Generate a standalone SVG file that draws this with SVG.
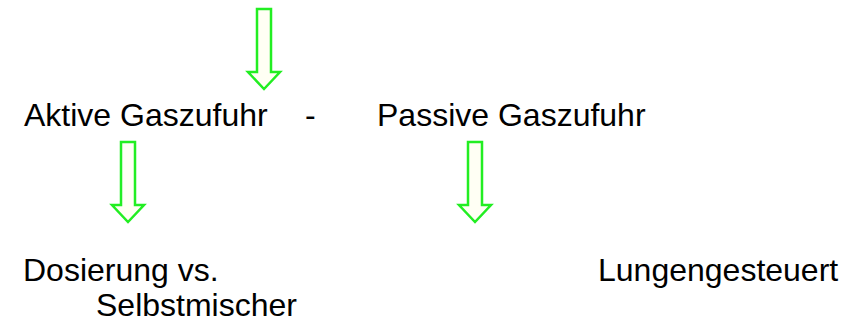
<svg xmlns="http://www.w3.org/2000/svg" width="852" height="323" viewBox="0 0 852 323">
  <defs>
    <!-- hollow down arrow, origin at shaft top-left -->
    <path id="down-arrow" d="M0,0 H14 V63 H23 L7,80 L-9,63 H0 Z"/>
  </defs>
  <style>
    .label { font-family: "Liberation Sans", Arial, sans-serif; font-size: 32px; fill: #000; }
    .arrow { fill: #FFFFF4; stroke: #22EE22; stroke-width: 2.5; stroke-linejoin: miter; }
  </style>
  <rect width="852" height="323" fill="#fff"/>

  <g id="connectors">
    <use href="#down-arrow" class="arrow" x="257" y="9"/>
    <use href="#down-arrow" class="arrow" x="121" y="142"/>
    <use href="#down-arrow" class="arrow" x="468" y="142"/>
  </g>

  <g id="aktive">
    <text class="label" x="24" y="126">Aktive Gaszufuhr</text>
  </g>
  <g id="separator">
    <text class="label" x="305" y="126">-</text>
  </g>
  <g id="passive">
    <text class="label" x="377" y="126">Passive Gaszufuhr</text>
  </g>
  <g id="dosierung">
    <text class="label" x="23" y="281">Dosierung vs.</text>
    <text class="label" x="96" y="316">Selbstmischer</text>
  </g>
  <g id="lungengesteuert">
    <text class="label" x="598" y="281">Lungengesteuert</text>
  </g>
</svg>
